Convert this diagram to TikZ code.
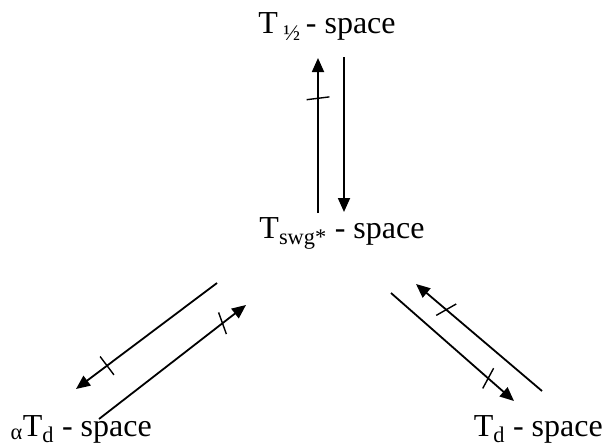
\documentclass[tikz,border=0pt]{standalone}
\usepackage{fontspec}
\setmainfont{Liberation Serif}
\usetikzlibrary{arrows.meta,decorations.markings}

\begin{document}
\begin{tikzpicture}[x=1pt,y=-1pt,>={Triangle[length=14pt,width=12pt]},
  conn/.style={line width=1.8pt},
  label/.style={font=\fontsize{32}{38}\selectfont,inner sep=0pt},
  crossat/.style 2 args={postaction={decorate,decoration={markings,
    mark=at position #1 with {\draw[arrows=-,line width=1.4pt,rotate=#2] (0,-11.5pt) -- (0,11.5pt);}}}}]
\useasboundingbox (0,0) rectangle (606,447);
% spaces
\node[label,anchor=base] (half) at (327,34) {T\,\textsubscript{½}\,- space};
\node[label,anchor=base] (swg) at (342,238) {T\textsubscript{swg*} - space};
\node[label,anchor=base east] (atd) at (152,436) {\textsubscript{α}T\textsubscript{d} - space};
\node[label,anchor=base east] (td) at (603,436) {T\textsubscript{d} - space};
% end points
\coordinate (u1) at (318,213); \coordinate (u2) at (318,58);
\coordinate (d1) at (344,57);  \coordinate (d2) at (344,212);
\coordinate (l1) at (217,283); \coordinate (l2) at (76,389);
\coordinate (l3) at (99,419);  \coordinate (l4) at (246,305);
\coordinate (r1) at (542,391); \coordinate (r2) at (416,284);
\coordinate (r3) at (391,293); \coordinate (r4) at (514,401);
% transitions
\draw[conn,->,crossat={0.74}{7}] (u1) -- (u2);
\draw[conn,->] (d1) -- (d2);
\draw[conn,->,crossat={0.78}{0}] (l1) -- (l2);
\draw[conn,->,crossat={0.84}{-18}] (l3) -- (l4);
\draw[conn,->,crossat={0.76}{-20}] (r1) -- (r2);
\draw[conn,->,crossat={0.79}{13}] (r3) -- (r4);
\end{tikzpicture}
\end{document}
